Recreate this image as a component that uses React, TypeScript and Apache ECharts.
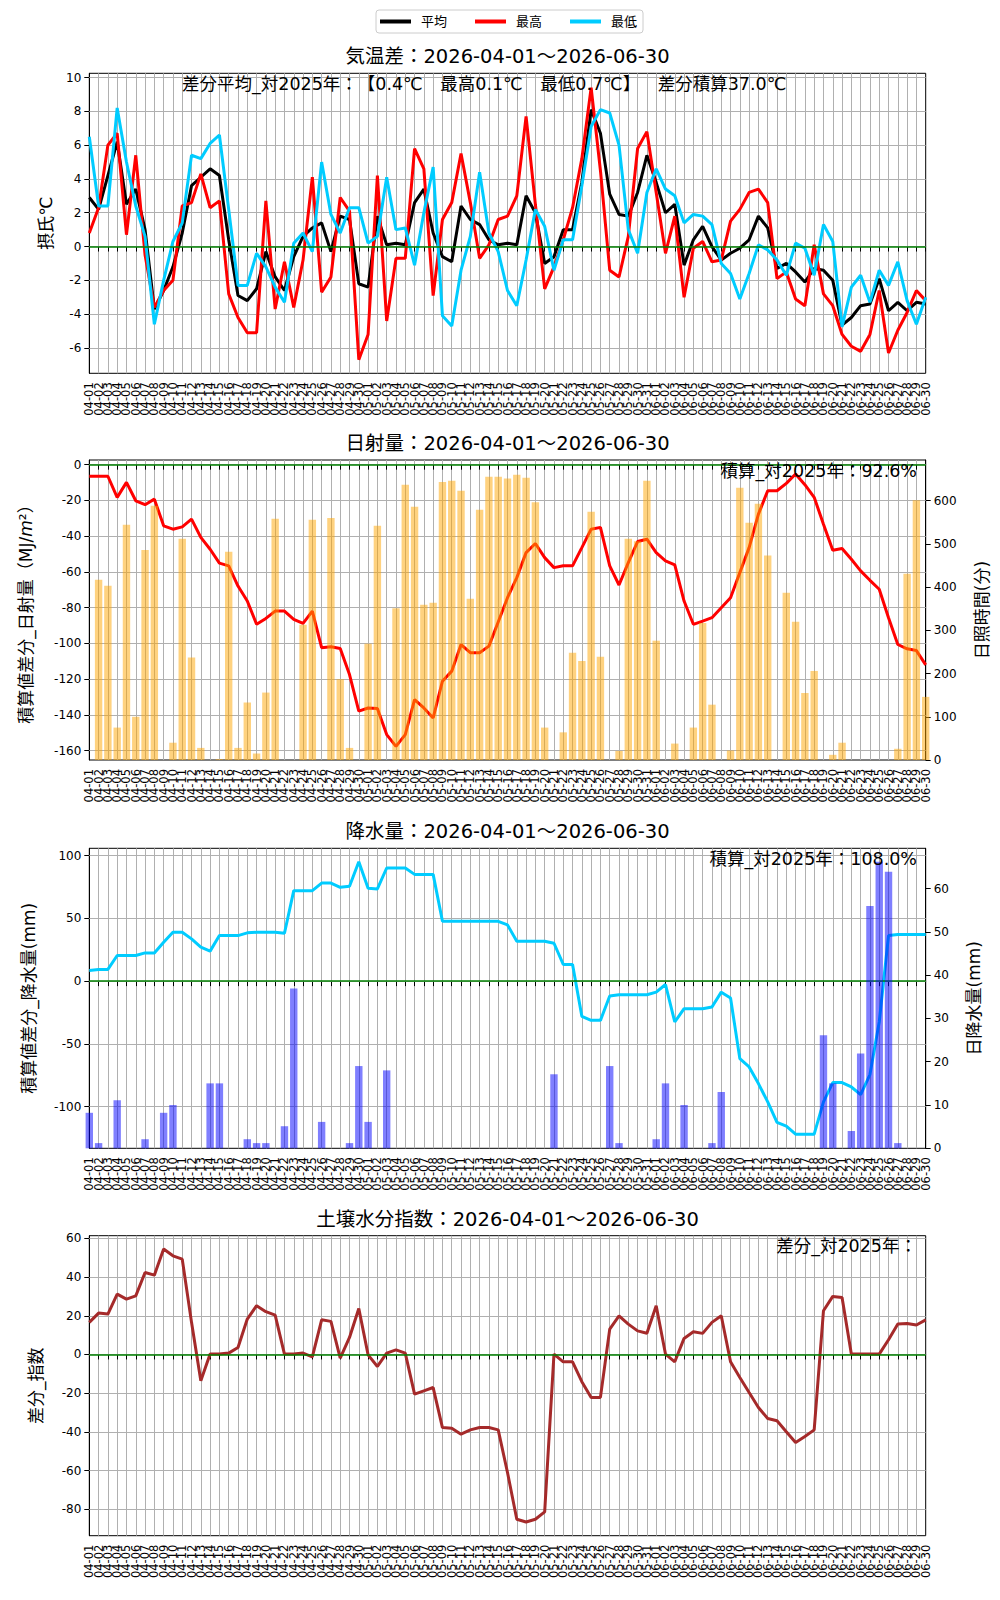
import { useEffect, useRef } from "react";
import * as echarts from "echarts";

const FONT = "'DejaVu Sans', 'Noto Sans CJK JP', sans-serif";

// 2026-04-01 .. 2026-06-30
const MONTHS: [string, number][] = [["04", 30], ["05", 31], ["06", 30]];
const dates: string[] = MONTHS.flatMap(([m, n]) =>
  Array.from({ length: n }, (_, d) => `${m}-${String(d + 1).padStart(2, "0")}`)
);

// 気温差
const tempAvg = [
  2.9, 2.2, 4.2, 6.2, 2.5, 3.4, 1.0, -3.7, -2.6, -1.2,
  0.8, 3.6, 4.1, 4.6, 4.2, 0.4, -2.9, -3.2, -2.5, -0.3,
  -1.8, -2.6, -0.6, 0.6, 1.1, 1.4, -0.3, 1.8, 1.6, -2.2,
  -2.4, 1.8, 0.1, 0.2, 0.1, 2.6, 3.4, 0.8, -0.6, -0.9,
  2.4, 1.6, 1.3, 0.4, 0.1, 0.2, 0.1, 3.0, 2.0, -1.0,
  -0.6, 1.0, 1.0, 3.8, 8.1, 6.7, 3.1, 1.9, 1.8, 3.2,
  5.4, 3.8, 2.0, 2.5, -1.1, 0.4, 1.2, 0.0, -0.8, -0.4,
  -0.1, 0.4, 1.8, 1.1, -1.3, -1.0, -1.5, -2.1, -1.3, -1.4,
  -2.0, -4.65, -4.2, -3.5, -3.4, -1.9, -3.8, -3.3, -3.8, -3.3,
  -3.4,
];
const tempMax = [
  0.8, 2.3, 6.0, 6.7, 0.7, 5.4, -0.5, -3.6, -2.6, -2.0,
  2.4, 2.6, 4.3, 2.3, 2.7, -2.8, -4.2, -5.1, -5.1, 2.7,
  -3.7, -0.9, -3.6, -0.8, 4.1, -2.7, -1.8, 2.9, 2.1, -6.7,
  -5.2, 4.2, -4.4, -0.7, -0.7, 5.8, 4.6, -2.9, 1.6, 2.6,
  5.5, 2.6, -0.7, 0.1, 1.6, 1.8, 3.0, 7.7, 2.5, -2.5,
  -1.2, 0.4, 2.3, 5.2, 9.4, 4.5, -1.4, -1.8, 0.6, 5.8,
  6.8, 3.2, -0.4, 1.8, -3.0, -0.1, 0.3, -0.9, -0.8, 1.5,
  2.2, 3.2, 3.4, 2.6, -1.9, -1.5, -3.1, -3.5, 0.1, -2.8,
  -3.5, -5.2, -5.9, -6.2, -5.2, -2.6, -6.3, -4.95, -3.9, -2.6,
  -3.2,
];
const tempMin = [
  6.5, 2.4, 2.4, 8.2, 5.0, 2.4, 0.6, -4.6, -2.0, 0.3,
  1.4, 5.4, 5.2, 6.1, 6.6, 2.2, -2.3, -2.3, -0.4, -1.2,
  -2.4, -3.3, 0.2, 0.8, -0.3, 5.0, 1.9, 0.8, 2.3, 2.3,
  0.2, 0.6, 4.1, 1.0, 1.1, -1.1, 2.0, 4.7, -4.1, -4.7,
  -1.4, 0.6, 4.4, 0.8, -0.3, -2.6, -3.5, -0.8, 2.2, 1.2,
  -1.4, 0.4, 0.4, 3.6, 7.1, 8.1, 7.9, 6.0, 1.0, -0.4,
  3.2, 4.6, 3.4, 3.0, 1.4, 1.9, 1.8, 1.3, -1.0, -1.6,
  -3.1, -1.6, 0.1, -0.2, -0.8, -1.7, 0.2, -0.1, -1.7, 1.3,
  0.3, -4.75, -2.4, -1.7, -3.3, -1.4, -2.3, -0.9, -3.2, -4.6,
  -3.0,
];

// 日射量
const solarCumDiff = [
  -6.5, -6.5, -6.5, -18.3, -9.9, -20.2, -22.4, -19.3, -34.2, -36.1,
  -34.8, -30.5, -40.7, -47.3, -55.1, -56.6, -67.9, -76.3, -89.3, -86.0,
  -81.9, -81.9, -86.5, -88.8, -81.9, -102.4, -101.9, -102.8, -117.4, -137.9,
  -136.1, -136.4, -151.0, -157.6, -151.0, -131.4, -136.1, -141.7, -121.1, -115.5,
  -100.6, -105.2, -105.2, -101.5, -88.0, -74.4, -63.2, -49.2, -44.1, -52.0,
  -57.6, -56.6, -56.6, -46.4, -36.1, -35.1, -56.6, -67.3, -54.8, -43.0,
  -41.7, -49.2, -53.8, -56.1, -76.3, -89.3, -87.5, -85.6, -80.0, -74.4,
  -60.4, -46.4, -27.7, -14.6, -14.6, -10.5, -5.2, -11.2, -18.3, -33.3,
  -47.9, -46.9, -52.9, -59.4, -64.7, -69.7, -85.6, -100.6, -103.0, -104.0,
  -112.0,
];
const sunshineMin = [
  0, 417, 403, 75, 544, 100, 486, 588, 0, 40,
  512, 237, 28, 0, 2, 482, 28, 133, 15, 156,
  558, 0, 0, 313, 556, 0, 560, 187, 28, 0,
  269, 542, 0, 351, 637, 586, 359, 364, 643, 646,
  623, 373, 579, 655, 655, 651, 660, 653, 596, 75,
  0, 64, 248, 229, 574, 239, 0, 21, 512, 506,
  646, 276, 0, 38, 0, 75, 317, 128, 0, 22,
  630, 549, 593, 473, 0, 387, 320, 155, 206, 0,
  12, 40, 0, 0, 0, 0, 0, 26, 431, 601,
  146,
];

// 降水量
const rainCumDiff = [
  8.5, 9.3, 9.3, 20.4, 20.4, 20.4, 22.5, 22.5, 31.0, 39.0,
  39.0, 33.7, 27.1, 23.9, 36.3, 36.3, 36.3, 38.5, 39.0, 39.0,
  39.0, 38.2, 72.1, 72.1, 72.1, 78.2, 78.2, 74.8, 75.6, 95.2,
  74.0, 73.5, 90.2, 90.2, 90.2, 85.1, 85.1, 85.1, 47.7, 47.7,
  47.7, 47.7, 47.7, 47.7, 47.7, 44.8, 31.8, 31.8, 31.8, 31.8,
  30.2, 13.3, 13.3, -28.1, -31.3, -31.3, -11.9, -10.9, -10.9, -10.9,
  -10.9, -8.8, -2.7, -32.6, -22.0, -22.0, -22.0, -20.7, -8.8, -13.5,
  -61.8, -68.4, -81.7, -96.3, -112.7, -115.6, -122.0, -122.0, -122.0, -96.3,
  -80.9, -80.9, -84.4, -90.5, -74.5, -32.6, 36.3, 37.1, 37.1, 37.1,
  37.1,
];
const rainDaily = [
  8.2, 1.2, 0, 11.1, 0, 0, 2.1, 0, 8.2, 10.0,
  0, 0, 0, 15.0, 15.0, 0, 0, 2.1, 1.2, 1.2,
  0, 5.1, 36.9, 0, 0, 6.1, 0, 0, 1.2, 19.0,
  6.1, 0, 18.0, 0, 0, 0, 0, 0, 0, 0,
  0, 0, 0, 0, 0, 0, 0, 0, 0, 0,
  17.1, 0, 0, 0, 0, 0, 19.0, 1.2, 0, 0,
  0, 2.1, 15.0, 0, 10.0, 0, 0, 1.2, 13.0, 0,
  0, 0, 0, 0, 0, 0, 0, 0, 0, 26.1,
  15.0, 0, 4.0, 21.9, 56.0, 66.2, 63.9, 1.2, 0, 0,
  0,
];

// 土壌水分指数
const soilDiff = [
  16.6, 21.4, 20.9, 31.2, 28.6, 30.3, 42.4, 41.0, 54.5, 51.0,
  49.3, 16.6, -13.6, 0.2, 0.2, 0.7, 3.6, 18.3, 25.2, 22.1,
  20.3, 0.2, 0.2, 0.7, -1.2, 17.9, 17.1, -1.9, 8.8, 23.8,
  -0.2, -6.2, 0.7, 2.4, 0.7, -20.5, -18.8, -17.1, -37.8, -38.1,
  -41.2, -39.0, -37.8, -37.8, -39.0, -61.0, -85.2, -86.6, -85.2, -81.4,
  0.2, -3.8, -3.8, -14.1, -22.2, -22.2, 13.1, 20.0, 15.7, 12.2,
  11.0, 25.2, 0.2, -3.8, 8.3, 11.7, 10.9, 16.6, 20.0, -3.8,
  -11.9, -19.7, -27.4, -33.1, -34.3, -40.0, -45.5, -42.4, -39.0, 22.6,
  30.0, 29.5, 0.2, 0.2, 0.2, 0.2, 7.6, 15.7, 16.0, 15.2,
  17.9,
];

// tick labels
const tempTicks = [-6, -4, -2, 0, 2, 4, 6, 8, 10];
const solarTicks = [-160, -140, -120, -100, -80, -60, -40, -20, 0];
const sunshineTicks = [0, 100, 200, 300, 400, 500, 600];
const rainTicks = [-100, -50, 0, 50, 100];
const rainDailyTicks = [0, 10, 20, 30, 40, 50, 60];
const soilTicks = [-80, -60, -40, -20, 0, 20, 40, 60];

const PLOT_LEFT = 89.3;
const PLOT_WIDTH = 836.4;
const PLOT_HEIGHT = 300;
const PANEL_TOPS = [73.3, 460, 848.3, 1235.7];
const RANGE = "2026-04-01～2026-06-30";

const xAxisFor = (gridIndex: number) => ({
  type: "category",
  gridIndex,
  data: dates,
  boundaryGap: false,
  axisLine: { show: true, lineStyle: { color: "#000", width: 1 } },
  axisTick: { show: true, interval: 0, length: 5, lineStyle: { color: "#000" } },
  axisLabel: { interval: 0, rotate: 90, fontSize: 11.5, fontFamily: FONT, color: "#000", margin: 9 },
  splitLine: {
    show: true,
    interval: 0,
    showMinLine: false,
    showMaxLine: false,
    lineStyle: { color: "#b0b0b0", width: 1 },
  },
});

const valueAxis = (
  gridIndex: number,
  min: number,
  max: number,
  ticks: number[],
  position: "left" | "right",
  name: string,
  nameGap: number
) => ({
  type: "value",
  gridIndex,
  min,
  max,
  position,
  name,
  nameLocation: "middle",
  nameGap,
  nameRotate: 90,
  nameTextStyle: {
    fontSize: 17,
    fontFamily: FONT,
    color: "#000",
    rich: { it: { fontSize: 17, fontFamily: FONT, fontStyle: "italic", color: "#000" } },
  },
  axisLine: { show: true, onZero: false, lineStyle: { color: "#000", width: 1 } },
  axisTick: { show: true, length: 5, customValues: ticks, lineStyle: { color: "#000" } },
  axisLabel: { customValues: ticks, fontSize: 12, fontFamily: FONT, color: "#000", margin: 8 },
  splitLine: { show: false },
});

const gridLines = (xi: number, yi: number, ticks: number[]) => ({
  type: "line",
  xAxisIndex: xi,
  yAxisIndex: yi,
  data: [],
  silent: true,
  z: 1,
  markLine: {
    silent: true,
    z: 1,
    symbol: ["none", "none"],
    label: { show: false },
    emphasis: { disabled: true },
    lineStyle: { color: "#b0b0b0", width: 1, type: "solid" },
    data: ticks.map((v) => ({ yAxis: v })),
  },
});

const zeroLine = (xi: number, yi: number) => ({
  type: "line",
  xAxisIndex: xi,
  yAxisIndex: yi,
  data: [],
  silent: true,
  z: 3,
  markLine: {
    silent: true,
    z: 3,
    symbol: ["none", "none"],
    label: { show: false },
    emphasis: { disabled: true },
    lineStyle: { color: "#008000", width: 1.6, type: "solid" },
    data: [{ yAxis: 0 }],
  },
});

const lineSeries = (name: string, xi: number, yi: number, data: number[], color: string) => ({
  name,
  type: "line",
  xAxisIndex: xi,
  yAxisIndex: yi,
  data,
  color,
  symbol: "none",
  z: 2,
  lineStyle: { color, width: 3 },
});

const barSeries = (xi: number, yi: number, data: number[], color: string) => ({
  type: "bar",
  xAxisIndex: xi,
  yAxisIndex: yi,
  data,
  barWidth: 7.4,
  z: 4,
  itemStyle: { color },
});

// full-width punctuation is put in its own rich fragment so that the browser
// does not trim the spacing between adjacent punctuation marks
const text = (str: string, x: number, y: number, size: number, align: string) => ({
  type: "text",
  x,
  y,
  z: 100,
  silent: true,
  style: {
    text: str,
    fontSize: size,
    fontFamily: FONT,
    fill: "#000",
    align,
    verticalAlign: "middle",
    rich: {
      p: { fontSize: size, fontFamily: FONT, fill: "#000" },
    },
  },
});

function buildOption() {
  return {
    animation: false,
    backgroundColor: "#ffffff",
    textStyle: { fontFamily: FONT },
    legend: {
      data: ["平均", "最高", "最低"],
      left: 376,
      top: 10,
      orient: "horizontal",
      icon: "rect",
      itemWidth: 31,
      itemHeight: 4,
      itemGap: 28,
      padding: [5, 6, 5, 4],
      borderColor: "#cccccc",
      borderWidth: 1,
      borderRadius: 3,
      textStyle: { fontSize: 13, fontFamily: FONT, color: "#000", padding: [0, 0, 0, 5] },
    },
    grid: PANEL_TOPS.map((top) => ({
      left: PLOT_LEFT,
      top,
      width: PLOT_WIDTH,
      height: PLOT_HEIGHT,
      show: true,
      borderColor: "#000",
      borderWidth: 1,
      backgroundColor: "transparent",
    })),
    xAxis: [0, 1, 2, 3].map(xAxisFor),
    yAxis: [
      valueAxis(0, -7.5, 10.25, tempTicks, "left", "摂氏℃", 35),
      valueAxis(1, -165.2, 2.6, solarTicks, "left", "積算値差分_日射量（MJ/{it|m}²）", 55),
      valueAxis(1, 0, 694, sunshineTicks, "right", "日照時間(分)", 48),
      valueAxis(2, -133.3, 105.9, rainTicks, "left", "積算値差分_降水量(mm)", 52),
      valueAxis(2, 0, 69.3, rainDailyTicks, "right", "日降水量(mm)", 40),
      valueAxis(3, -93.7, 61.4, soilTicks, "left", "差分_指数", 45),
    ],
    series: [
      gridLines(0, 0, tempTicks),
      zeroLine(0, 0),
      lineSeries("平均", 0, 0, tempAvg, "#000000"),
      lineSeries("最高", 0, 0, tempMax, "#ff0000"),
      lineSeries("最低", 0, 0, tempMin, "#00ccff"),

      gridLines(1, 1, solarTicks),
      zeroLine(1, 1),
      lineSeries("日射量", 1, 1, solarCumDiff, "#ff0000"),
      barSeries(1, 2, sunshineMin, "rgba(255,165,0,0.5)"),

      gridLines(2, 3, rainTicks),
      zeroLine(2, 3),
      lineSeries("降水量", 2, 3, rainCumDiff, "#00ccff"),
      barSeries(2, 4, rainDaily, "rgba(0,0,255,0.5)"),

      gridLines(3, 5, soilTicks),
      zeroLine(3, 5),
      lineSeries("土壌水分指数", 3, 5, soilDiff, "#a52a2a"),
    ],
    graphic: [
      text(`気温差：${RANGE}`, 507.5, PANEL_TOPS[0] - 16.5, 19.5, "center"),
      text(`日射量：${RANGE}`, 507.5, PANEL_TOPS[1] - 16.5, 19.5, "center"),
      text(`降水量：${RANGE}`, 507.5, PANEL_TOPS[2] - 16.5, 19.5, "center"),
      text(`土壌水分指数：${RANGE}`, 507.5, PANEL_TOPS[3] - 16.5, 19.5, "center"),
      text(
        "差分平均_対2025年{p|：}{p|【}0.4℃{p|　}最高0.1℃{p|　}最低0.7℃{p|】}{p|　}差分積算37.0℃",
        182,
        83.5,
        17.5,
        "left"
      ),
      text("積算_対2025年：92.6%", 917, 470.5, 17.5, "right"),
      text("積算_対2025年：108.0%", 917, 858.5, 17.5, "right"),
      text("差分_対2025年：", 917, 1246, 17.5, "right"),
    ],
  };
}

export default function App() {
  const chartRef = useRef<HTMLDivElement>(null);

  useEffect(() => {
    if (!chartRef.current) return;
    const chart = echarts.init(chartRef.current, undefined, { renderer: "svg" });
    chart.setOption(buildOption() as any);
    return () => {
      chart.dispose();
    };
  }, []);

  return (
    <div
      ref={chartRef}
      style={{ position: "absolute", left: 0, top: 0, width: 1000, height: 1600, background: "#fff" }}
    />
  );
}
